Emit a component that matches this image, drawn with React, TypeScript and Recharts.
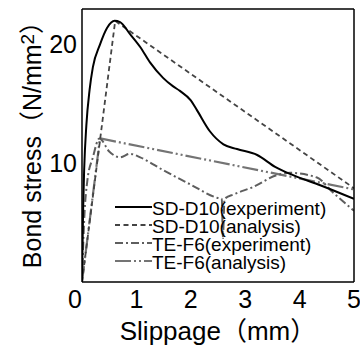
import React from 'react';
import { LineChart, Line, XAxis, YAxis, Legend } from 'recharts';

const FONT = '"Liberation Sans", Arial, "Noto Sans CJK JP", sans-serif';

// SD-D10 experiment
const sdExpSlip = [0, 0.02, 0.04, 0.08, 0.14, 0.2, 0.33, 0.46, 0.6, 0.7, 0.88, 1.07, 1.25, 1.49, 1.67, 1.8, 2.0, 2.11, 2.35, 2.6, 2.85, 3.22, 3.55, 3.88, 4.38, 5.0];
const sdExpStress = [0, 6, 9.5, 13.2, 16.2, 18.1, 20.0, 21.4, 22.0, 21.9, 20.9, 19.8, 18.5, 17.2, 16.5, 16.1, 15.3, 14.5, 12.7, 11.6, 11.2, 10.7, 9.7, 9.0, 8.15, 7.0];

// SD-D10 analysis
const sdAnaSlip = [0, 0.61, 5];
const sdAnaStress = [0, 22, 7.9];

// TE-F6 experiment
const teExpSlip = [0, 0.04, 0.1, 0.2, 0.32, 0.5, 0.7, 0.88, 1.07, 1.5, 2.0, 2.48, 2.57, 2.59, 2.62, 2.8, 3.14, 3.58, 3.82, 4.32, 4.6, 5.0];
const teExpStress = [0, 5.2, 8.6, 10.5, 12.1, 11.0, 10.5, 10.8, 10.5, 9.4, 8.2, 7.1, 7.0, 3.7, 7.0, 7.4, 8.0, 9.0, 9.2, 8.8, 7.6, 6.0];

// TE-F6 analysis
const teAnaSlip = [0, 0.33, 5];
const teAnaStress = [0, 12.1, 7.8];

const seriesNames = ['SD-D10(experiment)', 'SD-D10(analysis)', 'TE-F6(experiment)', 'TE-F6(analysis)'];

const xLabelTicks = [0, 1, 2, 3, 4, 5];
const xTickMarks = [0.5, 1, 1.5, 2, 2.5, 3, 3.5, 4, 4.5];
const yLabelTicks = [10, 20];
const yMajorTicks = [10, 20];
const yMinorTicks = [5, 15];

const toPoints = (xs: number[], ys: number[]) => xs.map((x, i) => ({ x, y: ys[i] }));

const sdExp = toPoints(sdExpSlip, sdExpStress);
const sdAna = toPoints(sdAnaSlip, sdAnaStress);
const teExp = toPoints(teExpSlip, teExpStress);
const teAna = toPoints(teAnaSlip, teAnaStress);

const styles = [
  { stroke: '#000000', width: 2, dash: undefined as string | undefined },
  { stroke: '#444444', width: 1.8, dash: '5 3.5' },
  { stroke: '#5e5e5e', width: 2, dash: '8 3 2 3' },
  { stroke: '#747474', width: 2.2, dash: '16 3 2 3 2 3' },
];

const axisStroke = { stroke: '#000', strokeWidth: 1.5 };
const tickStroke = { stroke: '#000', strokeWidth: 1.2 };

const XTick = (props: any) => {
  const { x, y, payload } = props;
  const shift = payload.value === 0 ? -7 : 0;
  return (
    <text x={x + shift} y={y} dy="0.71em" textAnchor="middle" fontSize={25} fill="#000">
      {payload.value}
    </text>
  );
};

const YTitle = (props: any) => {
  const { viewBox } = props;
  const cx = viewBox.x + 32;
  const cy = viewBox.y + viewBox.height / 2 - 7;
  return (
    <text
      x={cx}
      y={cy}
      dy="0.36em"
      transform={`rotate(-90 ${cx} ${cy})`}
      textAnchor="middle"
      fontSize={25}
      fill="#000"
    >
      Bond stress（N/mm<tspan dy={-7} fontSize={19}>2</tspan>
      <tspan dy={7}>）</tspan>
    </text>
  );
};

const LegendBox = () => (
  <div style={{ fontSize: 19, lineHeight: '18.3px', color: '#000' }}>
    {seriesNames.map((name, i) => (
      <div key={name} style={{ display: 'flex', whiteSpace: 'nowrap' }}>
        <svg width={37} height={18} style={{ display: 'block', flex: 'none' }}>
          <line
            x1={0}
            x2={37}
            y1={7}
            y2={7}
            stroke={styles[i].stroke}
            strokeWidth={styles[i].width}
            strokeDasharray={styles[i].dash}
          />
        </svg>
        <span>{name}</span>
      </div>
    ))}
  </div>
);

export default function App() {
  return (
    <div style={{ position: 'absolute', left: 0, top: 0, fontFamily: FONT }}>
      <LineChart width={360} height={351} margin={{ top: 9, right: 6, left: 0, bottom: 0 }}>
        <XAxis
          xAxisId="x"
          dataKey="x"
          type="number"
          domain={[0, 5]}
          ticks={xLabelTicks}
          interval={0}
          allowDataOverflow
          height={69}
          tickLine={false}
          tickSize={0}
          tickMargin={8}
          axisLine={axisStroke}
          tick={<XTick />}
          label={{ value: 'Slippage（mm）', position: 'insideBottom', offset: 11, fontSize: 26, fill: '#000' }}
        />
        <XAxis
          xAxisId="bottomTicks"
          type="number"
          orientation="bottom"
          mirror
          height={1}
          domain={[0, 5]}
          ticks={xTickMarks}
          interval={0}
          allowDataOverflow
          tick={false}
          tickSize={7}
          tickLine={tickStroke}
          axisLine={false}
        />
        <XAxis
          xAxisId="top"
          type="number"
          orientation="top"
          mirror
          height={1}
          domain={[0, 5]}
          ticks={xTickMarks}
          interval={0}
          allowDataOverflow
          tick={false}
          tickSize={9}
          tickLine={tickStroke}
          axisLine={axisStroke}
        />
        <YAxis
          yAxisId="y"
          type="number"
          domain={[0, 23]}
          ticks={yLabelTicks}
          interval={0}
          allowDataOverflow
          width={82}
          tickLine={false}
          tickSize={0}
          tickMargin={5}
          axisLine={axisStroke}
          tick={{ fontSize: 25, fill: '#000' }}
          label={<YTitle />}
        />
        <YAxis
          yAxisId="leftMajor"
          type="number"
          mirror
          width={1}
          domain={[0, 23]}
          ticks={yMajorTicks}
          interval={0}
          allowDataOverflow
          tick={false}
          tickSize={10}
          tickLine={tickStroke}
          axisLine={false}
        />
        <YAxis
          yAxisId="leftMinor"
          type="number"
          mirror
          width={1}
          domain={[0, 23]}
          ticks={yMinorTicks}
          interval={0}
          allowDataOverflow
          tick={false}
          tickSize={6}
          tickLine={tickStroke}
          axisLine={false}
        />
        <YAxis
          yAxisId="right"
          type="number"
          orientation="right"
          mirror
          width={1}
          domain={[0, 23]}
          ticks={yMajorTicks}
          interval={0}
          allowDataOverflow
          tick={false}
          tickSize={10}
          tickLine={tickStroke}
          axisLine={axisStroke}
        />
        <YAxis
          yAxisId="rightMinor"
          type="number"
          orientation="right"
          mirror
          width={1}
          domain={[0, 23]}
          ticks={yMinorTicks}
          interval={0}
          allowDataOverflow
          tick={false}
          tickSize={6}
          tickLine={tickStroke}
          axisLine={false}
        />
        <Line
          xAxisId="x"
          yAxisId="y"
          data={teAna}
          dataKey="y"
          name={seriesNames[3]}
          type="linear"
          stroke={styles[3].stroke}
          strokeWidth={styles[3].width}
          strokeDasharray={styles[3].dash}
          dot={false}
          isAnimationActive={false}
        />
        <Line
          xAxisId="x"
          yAxisId="y"
          data={teExp}
          dataKey="y"
          name={seriesNames[2]}
          type="monotone"
          stroke={styles[2].stroke}
          strokeWidth={styles[2].width}
          strokeDasharray={styles[2].dash}
          dot={false}
          isAnimationActive={false}
        />
        <Line
          xAxisId="x"
          yAxisId="y"
          data={sdAna}
          dataKey="y"
          name={seriesNames[1]}
          type="linear"
          stroke={styles[1].stroke}
          strokeWidth={styles[1].width}
          strokeDasharray={styles[1].dash}
          dot={false}
          isAnimationActive={false}
        />
        <Line
          xAxisId="x"
          yAxisId="y"
          data={sdExp}
          dataKey="y"
          name={seriesNames[0]}
          type="monotone"
          stroke={styles[0].stroke}
          strokeWidth={styles[0].width}
          dot={false}
          isAnimationActive={false}
        />
        <Legend
          layout="vertical"
          align="center"
          verticalAlign="middle"
          content={<LegendBox />}
          wrapperStyle={{ left: 115, top: 199.6, width: 240 }}
        />
      </LineChart>
    </div>
  );
}
